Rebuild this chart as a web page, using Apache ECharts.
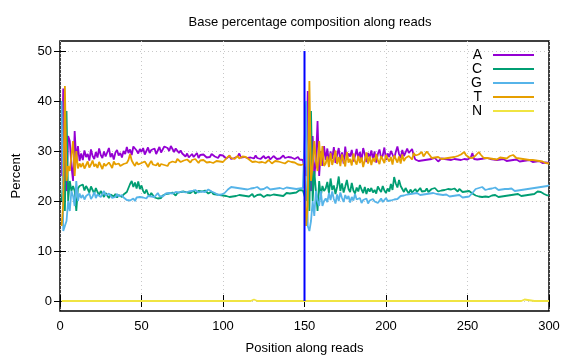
<!DOCTYPE html>
<html>
<head>
<meta charset="utf-8">
<script src="https://cdn.jsdelivr.net/npm/echarts@6/dist/echarts.min.js"></script>
<style>html,body{margin:0;padding:0;background:#fff}#c{width:576px;height:360px}</style>
</head>
<body>
<div id="c"></div>
<script>
var bases = ['A', 'C', 'G', 'T', 'N'];
var colors = ['#9400d3', '#009e73', '#56b4e9', '#e69f00', '#f0e442'];
var xTicks = [0, 50, 100, 150, 200, 250, 300];
var yTicks = [0, 10, 20, 30, 40, 50];
var readBoundary = 150;

var A = [
25, 42.5, 24, 22, 33, 32, 27, 24, 34, 28,
31, 28, 29.5, 28.2, 30.1, 28.8, 29.4, 28.1, 30.3, 29.0,
28.4, 29.8, 28.7, 30.5, 29.2, 28.6, 29.9, 28.9, 29.3, 30.6,
28.8, 29.5, 28.3, 29.7, 30.2, 29.1, 29.6, 28.7, 30.0, 29.4,
30.8, 29.6, 30.3, 29.2, 30.9, 31.2, 30.1, 29.5, 30.4, 29.8,
30.6, 29.3, 30.0, 30.7, 29.6, 30.2, 29.9, 30.5, 29.4, 30.1,
30.8, 29.7, 30.3, 30.9, 31.3, 30.6, 30.0, 31.0, 30.4, 29.8,
30.5, 30.2, 29.6, 30.1, 29.5, 29.3, 28.9, 29.5, 28.7, 29.1,
29.4, 28.8, 29.0, 29.6, 28.6, 29.2, 28.9, 29.3, 29.0, 28.7,
29.1, 28.8, 29.4, 29.7, 28.9, 29.0, 28.6, 29.2, 28.8, 29.1,
28.9, 28.5, 28.7, 29.0, 28.4, 28.8, 28.6, 28.3, 28.9, 29.5,
28.7, 28.5, 28.8, 29.2, 28.6, 28.4, 28.7, 28.9, 28.5, 29.1,
28.6, 28.8, 28.4, 28.7, 29.0, 28.5, 28.6, 28.9, 28.3, 28.7,
29.0, 28.6, 28.4, 28.8, 28.5, 28.7, 29.1, 28.6, 28.4, 28.8,
28.5, 28.7, 28.9, 28.4, 28.6, 28.8, 28.3, 28.5, 28.2, 28.0,
25, 42, 24, 22, 33, 25, 28, 36, 25, 30,
27, 31, 28.2, 30.5, 27.8, 29.9, 28.4, 30.8, 27.6, 29.2,
30.6, 28.0, 29.7, 27.5, 30.9, 28.3, 29.5, 28.9, 30.2, 27.9,
29.0, 30.4, 28.5, 29.8, 28.1, 30.6, 29.3, 27.8, 29.6, 28.7,
30.1, 28.4, 29.9, 27.7, 29.4, 30.3, 28.6, 29.1, 30.7, 28.2,
29.5, 28.8, 30.0, 29.3, 28.5, 29.8, 30.9, 29.4, 28.6, 30.2,
29.0, 29.7, 30.5, 29.6, 29.2, 30.4, 29.1, 28.3, 28.6, 28.0,
28.4, 28.1, 28.5, 28.2, 27.9, 28.3, 28.0, 28.4, 28.1, 28.6,
28.3, 27.9, 28.2, 28.5, 28.1, 28.4, 28.0, 28.3, 28.5, 28.2,
28.0, 28.4, 28.1, 28.3, 28.6, 28.2, 28.0, 28.4, 28.1, 28.3,
28.2, 28.7, 29.6, 28.4, 28.1, 28.3, 28.0, 28.4, 28.2, 28.5,
28.3, 28.6, 28.2, 28.4, 28.1, 28.3, 28.5, 28.2, 28.0, 28.3,
28.1, 28.4, 28.2, 28.0, 28.3, 28.1, 27.9, 28.2, 28.0, 28.3,
28.1, 27.9, 28.2, 28.0, 27.8, 28.1, 27.9, 28.2, 28.0, 27.8,
28.1, 27.9, 27.7, 28.0, 27.8, 27.6, 27.9, 27.7, 27.8, 27.6
];

var C = [
20, 24, 18, 38, 20, 24, 22, 23, 22, 18,
22.5, 23, 22.8, 23.3, 22.1, 23.0, 22.4, 21.7, 22.9, 22.2,
21.5, 22.6, 21.8, 21.2, 22.0, 21.4, 20.8, 21.6, 21.1, 20.6,
21.3, 21.7, 20.9, 21.4, 20.7, 21.2, 21.6, 20.8, 21.3, 21.0,
21.8, 22.6, 23.4, 24.0, 22.8, 23.7, 22.5, 23.9, 22.4, 23.1,
22.0, 21.5, 22.3, 21.4, 20.9, 21.6, 21.2, 20.7, 21.0, 20.5,
20.9, 20.6, 21.1, 20.8, 21.4, 21.0, 21.5, 21.2, 21.7, 21.3,
21.1, 21.6, 21.4, 21.8, 21.5, 21.9, 22.2, 21.7, 22.0, 21.6,
21.9, 22.1, 21.5, 21.8, 22.0, 21.6, 21.9, 21.7, 22.1, 21.8,
21.5, 21.7, 21.9, 21.4, 21.6, 21.3, 21.5, 21.2, 21.4, 21.1,
21.3, 21.0, 21.2, 20.8, 21.1, 20.9, 21.3, 21.0, 20.7, 21.2,
20.9, 21.1, 20.8, 21.0, 21.3, 20.9, 21.1, 21.4, 20.8, 21.0,
21.2, 20.9, 21.3, 21.1, 20.8, 21.0, 21.2, 21.4, 21.1, 20.9,
21.3, 21.0, 21.2, 21.5, 21.1, 21.3, 21.0, 21.4, 21.6, 21.3,
21.5, 21.8, 21.6, 21.9, 21.7, 22.0, 22.2, 21.9, 22.1, 22.3,
20, 24, 18, 38, 20, 26, 22, 18, 24, 21,
23, 22, 22.5, 23.8, 21.6, 24.5, 22.2, 23.1, 21.4, 22.8,
24.9, 22.0, 23.5, 21.7, 22.9, 24.2, 22.4, 21.8, 23.6, 22.1,
21.5, 22.7, 21.9, 23.2, 22.3, 21.6, 22.8, 21.4, 22.5, 21.9,
22.6, 21.7, 22.2, 21.5, 22.9, 22.3, 21.8, 23.0, 22.1, 21.6,
22.5, 21.9, 23.4, 22.2, 24.8, 23.5, 22.7, 24.2, 23.0, 22.4,
21.8, 22.6, 22.0, 21.5, 22.3, 21.7, 21.9, 22.4, 21.8, 22.2,
22.6, 21.9, 22.3, 22.0, 22.5, 21.8, 22.1, 22.4, 22.0, 22.6,
22.2, 21.9, 22.3, 22.1, 22.5, 22.2, 21.9, 22.4, 22.0, 22.3,
22.1, 22.5, 22.2, 21.9, 22.4, 22.1, 21.8, 22.2, 21.9, 22.1,
22.0, 21.8, 21.5, 21.3, 21.1, 21.0, 20.9, 21.1, 20.8, 21.0,
20.9, 21.2, 20.8, 21.0, 21.1, 20.9, 21.2, 21.0, 20.8, 21.1,
20.9, 21.2, 21.0, 21.3, 21.1, 20.9, 21.2, 21.0, 21.3, 21.1,
21.4, 21.2, 21.0, 21.3, 21.1, 21.4, 21.2, 21.5, 21.3, 21.6,
21.4, 21.7, 21.9, 22.1, 21.8, 21.6, 21.4, 21.3, 21.1, 21.2
];

var G = [
40, 14, 15, 16, 20, 18, 22, 21, 19, 24,
20, 21.5, 20.6, 21.2, 20.3, 21.0, 20.7, 21.5, 20.4, 20.9,
21.8, 20.6, 21.3, 21.7, 20.8, 21.4, 22.0, 21.1, 20.7, 21.5,
21.2, 20.6, 21.0, 20.8, 21.4, 20.9, 20.5, 21.2, 20.7, 21.0,
20.2, 20.6, 20.1, 20.3, 20.5, 20.0, 20.7, 20.3, 20.8, 20.4,
20.7, 20.9, 20.5, 21.0, 20.6, 20.9, 21.3, 20.8, 21.2, 21.6,
21.0, 21.4, 20.9, 21.3, 21.5, 21.1, 21.6, 21.2, 21.5, 21.3,
21.8, 21.4, 21.7, 21.6, 21.9, 22.1, 21.7, 22.0, 21.9, 22.3,
22.0, 21.8, 22.2, 21.9, 21.7, 22.1, 21.9, 22.2, 21.8, 22.0,
22.3, 22.1, 21.9, 22.2, 21.6, 21.4, 21.2, 21.4, 21.3, 21.5,
21.6, 22.0, 22.3, 22.5, 22.8, 22.4, 22.7, 22.3, 22.6, 22.9,
22.5, 22.8, 22.4, 22.6, 22.3, 22.7, 22.5, 22.9, 22.6, 22.4,
22.8, 22.5, 22.3, 22.7, 22.4, 22.6, 22.8, 22.5, 22.3, 22.6,
22.4, 22.7, 22.5, 22.3, 22.6, 22.8, 22.4, 22.5, 22.7, 22.4,
22.6, 22.3, 22.5, 22.7, 22.4, 22.2, 22.5, 22.3, 22.6, 22.4,
40, 15, 14, 16, 20, 17, 22, 20, 19, 22,
19, 20, 20.5, 19.8, 21.6, 20.2, 21.9, 20.4, 19.5, 21.3,
20.0, 21.7, 20.6, 19.8, 21.2, 20.4, 21.0, 19.7, 20.8, 20.1,
21.4, 20.3, 19.9, 20.6, 19.6, 20.2, 19.8, 20.5, 19.5, 20.1,
19.7, 20.4, 19.9, 20.3, 19.6, 20.0, 20.5, 19.8, 20.2, 20.6,
20.0, 20.4, 20.1, 20.5, 20.3, 20.7, 20.4, 20.8, 21.0, 20.7,
21.1, 20.9, 21.3, 21.0, 21.4, 21.2, 21.5, 21.3, 21.6, 21.4,
21.2, 21.5, 21.3, 21.7, 21.4, 21.1, 21.5, 21.3, 21.6, 21.2,
21.4, 21.1, 21.3, 21.5, 21.2, 21.0, 21.3, 21.1, 20.9, 21.2,
21.0, 20.8, 21.1, 20.9, 21.2, 21.0, 20.7, 21.0, 20.8, 21.1,
20.9, 21.3, 21.6, 22.0, 22.4, 22.1, 22.6, 22.3, 22.8, 22.5,
22.2, 22.6, 22.4, 22.8, 22.5, 22.3, 22.7, 22.4, 22.2, 22.5,
22.3, 22.6, 22.4, 22.1, 22.4, 22.2, 22.5, 22.3, 22.0, 22.3,
22.1, 22.4, 22.2, 22.5, 22.3, 22.6, 22.4, 22.2, 22.5, 22.3,
22.6, 22.4, 22.7, 22.5, 22.8, 22.6, 22.9, 23.1, 23.0, 23.2
];

var T = [
15, 19.5, 43, 24, 27, 26, 29, 32, 25, 30,
26.5, 27.5, 26.8, 27.6, 26.5, 27.2, 27.9, 26.7, 27.3, 28.1,
26.9, 27.4, 26.6, 27.8, 27.1, 26.4, 27.5, 27.0, 26.8, 27.7,
27.2, 26.6, 27.9, 27.3, 26.9, 27.5, 27.0, 26.7, 27.4, 27.1,
27.6, 28.2, 29.4, 28.1, 27.5, 27.0, 27.8, 27.3, 26.9, 27.6,
27.2, 27.9, 27.4, 26.8, 27.5, 28.0, 27.3, 27.7, 27.1, 27.6,
26.9, 27.4, 27.8, 27.2, 27.5, 27.0, 27.6, 27.3, 27.9, 28.2,
27.7, 28.4, 28.1, 27.8, 28.0, 28.1, 27.8, 28.3, 28.0, 27.7,
28.2, 27.9, 28.4, 28.0, 27.6, 28.1, 27.8, 28.2, 27.9, 27.7,
28.0, 27.8, 28.1, 27.6, 27.9, 28.0, 27.7, 27.9, 27.6, 27.8,
28.1, 28.5, 28.7, 29.1, 28.6, 28.9, 28.4, 28.8, 29.0, 28.5,
28.7, 28.9, 28.6, 28.8, 28.4, 28.3, 28.0, 27.8, 27.6, 27.9,
28.1, 27.7, 27.5, 27.8, 28.0, 27.6, 27.9, 28.2, 27.8, 27.5,
27.7, 28.0, 27.6, 27.9, 28.1, 27.7, 27.8, 27.5, 27.9, 28.0,
27.6, 27.8, 28.1, 27.7, 27.5, 27.3, 27.4, 27.2, 27.3, 27.4,
15, 19, 44, 24, 27, 32, 28, 26, 32, 27,
31, 27, 27.5, 28.9, 26.8, 29.6, 27.2, 28.5, 30.1, 27.4,
28.8, 27.0, 29.3, 28.1, 26.9, 29.8, 27.7, 28.4, 27.1, 29.5,
28.0, 27.3, 29.0, 27.6, 28.7, 26.8, 28.2, 29.7, 27.5, 28.9,
27.2, 28.6, 27.8, 29.4, 28.1, 27.4, 29.0, 28.3, 27.6, 29.2,
28.5, 27.9, 28.8, 27.3, 29.1, 28.4, 27.7, 28.9, 27.5, 29.3,
28.0, 28.6, 28.2, 29.0, 29.4, 28.3, 29.6, 29.1, 28.7, 29.3,
29.0, 29.8, 28.9, 29.4, 29.9, 30.2, 29.1, 28.6, 28.4, 28.7,
28.5, 28.8, 28.6, 28.4, 28.7, 28.5, 28.8, 28.6, 28.9, 28.7,
28.5, 28.8, 28.6, 29.0, 28.8, 29.3, 29.6, 29.8, 29.2, 28.9,
28.7, 28.9, 28.6, 28.8, 29.1, 29.5, 29.8, 29.3, 29.0, 28.6,
28.4, 28.6, 28.3, 28.5, 28.2, 28.4, 28.6, 28.3, 28.5, 28.7,
28.4, 28.6, 28.8, 28.5, 28.7, 29.0, 28.8, 29.2, 28.9, 28.6,
28.4, 28.5, 28.2, 28.4, 28.1, 28.3, 28.5, 28.2, 28.0, 28.2,
27.9, 28.1, 27.8, 28.0, 27.7, 27.9, 27.8, 27.6, 27.7, 27.5
];

var N = [
0, 0, 0, 0, 0, 0, 0, 0, 0, 0,
0, 0, 0, 0, 0, 0, 0, 0, 0, 0,
0, 0, 0, 0, 0, 0, 0, 0, 0, 0,
0, 0, 0, 0, 0, 0, 0, 0, 0, 0,
0, 0, 0, 0, 0, 0, 0, 0, 0, 0,
0, 0, 0, 0, 0, 0, 0, 0, 0, 0,
0, 0, 0, 0, 0, 0, 0, 0, 0, 0,
0, 0, 0, 0, 0, 0, 0, 0, 0, 0,
0, 0, 0, 0, 0, 0, 0, 0, 0, 0,
0, 0, 0, 0, 0, 0, 0, 0, 0, 0,
0, 0, 0, 0, 0, 0, 0, 0, 0, 0,
0, 0, 0, 0, 0, 0, 0, 0.2, 0.3, 0.1,
0, 0, 0, 0, 0, 0, 0, 0, 0, 0,
0, 0, 0, 0, 0, 0, 0, 0, 0, 0,
0, 0, 0, 0, 0, 0, 0, 0, 0, 0,
0, 0, 0, 0, 0, 0, 0, 0, 0, 0,
0, 0, 0, 0, 0, 0, 0, 0, 0, 0,
0, 0, 0, 0, 0, 0, 0, 0, 0, 0,
0, 0, 0, 0, 0, 0, 0, 0, 0, 0,
0, 0, 0, 0, 0, 0, 0, 0, 0, 0,
0, 0, 0, 0, 0, 0, 0, 0, 0, 0,
0, 0, 0, 0, 0, 0, 0, 0, 0, 0,
0, 0, 0, 0, 0, 0, 0, 0, 0, 0,
0, 0, 0, 0, 0, 0, 0, 0, 0, 0,
0, 0, 0, 0, 0, 0, 0, 0, 0, 0,
0, 0, 0, 0, 0, 0, 0, 0, 0, 0,
0, 0, 0, 0, 0, 0, 0, 0, 0, 0,
0, 0, 0, 0, 0, 0, 0, 0, 0, 0,
0, 0, 0, 0.2, 0.3, 0.3, 0.2, 0.2, 0.1, 0,
0, 0, 0, 0, 0, 0, 0, 0, 0, 0
];

var values = [A, C, G, T, N];
var FONT = 'Liberation Sans';

function pairs(arr) {
  return arr.map(function (v, i) { return [i + 1, v]; });
}

var series = bases.map(function (b, k) {
  return {
    name: b, type: 'line', data: pairs(values[k]),
    showSymbol: false, symbol: 'none', animation: false,
    lineStyle: { color: colors[k], width: 1.8 },
    itemStyle: { color: colors[k] },
    z: 2 + k
  };
});
series.push({
  name: 'boundary', type: 'line', showSymbol: false, symbol: 'none', animation: false,
  data: [[readBoundary, yTicks[0]], [readBoundary, yTicks[yTicks.length - 1]]],
  lineStyle: { color: '#0000ff', width: 2 }, z: 10
});

var gridStyle = { show: true, lineStyle: { color: '#c8c8c8', type: [1, 3], width: 1 } };
var chart = echarts.init(document.getElementById('c'), null, { renderer: 'canvas' });
chart.setOption({
  animation: false,
  backgroundColor: '#fff',
  title: {
    text: 'Base percentage composition along reads',
    left: 305, top: 11, textAlign: 'center',
    textStyle: { fontFamily: FONT, fontSize: 13, fontWeight: 'normal', color: '#000' }
  },
  legend: {
    data: bases, orient: 'vertical', right: 37, top: 43, align: 'right',
    icon: 'rect', itemWidth: 41, itemHeight: 2, itemGap: 0,
    textStyle: { fontFamily: FONT, fontSize: 14, color: '#000', lineHeight: 14, padding: [0, 6, 0, 0] },
    selectedMode: false
  },
  grid: { left: 60, right: 27, top: 41, bottom: 46, show: true, borderColor: '#000', borderWidth: 1.5, backgroundColor: 'transparent' },
  xAxis: [{
    type: 'value', min: xTicks[0], max: xTicks[xTicks.length - 1], interval: 50,
    position: 'bottom',
    name: 'Position along reads', nameLocation: 'middle', nameGap: 31,
    nameTextStyle: { fontFamily: FONT, fontSize: 13, color: '#000' },
    axisLine: { show: false },
    axisTick: { show: true, inside: true, length: 6, lineStyle: { color: '#000', width: 1 } },
    axisLabel: { fontFamily: FONT, fontSize: 13, color: '#000', margin: 9 },
    splitLine: gridStyle
  }, {
    type: 'value', min: xTicks[0], max: xTicks[xTicks.length - 1], interval: 50,
    position: 'top',
    axisLine: { show: false },
    axisTick: { show: true, inside: true, length: 6, lineStyle: { color: '#000', width: 1 } },
    axisLabel: { show: false }, splitLine: { show: false }
  }],
  yAxis: [{
    type: 'value', min: -2, max: 52,
    position: 'left',
    name: 'Percent', nameLocation: 'middle', nameGap: 37, nameRotate: 90,
    nameTextStyle: { fontFamily: FONT, fontSize: 13, color: '#000' },
    axisLine: { show: false },
    axisTick: { show: true, inside: true, length: 6, lineStyle: { color: '#000', width: 1 }, customValues: yTicks },
    axisLabel: { fontFamily: FONT, fontSize: 13, color: '#000', margin: 8, customValues: yTicks },
    splitLine: gridStyle
  }, {
    type: 'value', min: -2, max: 52,
    position: 'right',
    axisLine: { show: false },
    axisTick: { show: true, inside: true, length: 6, lineStyle: { color: '#000', width: 1 }, customValues: yTicks },
    axisLabel: { show: false }, splitLine: { show: false }
  }],
  series: series
});
</script>
</body>
</html>
